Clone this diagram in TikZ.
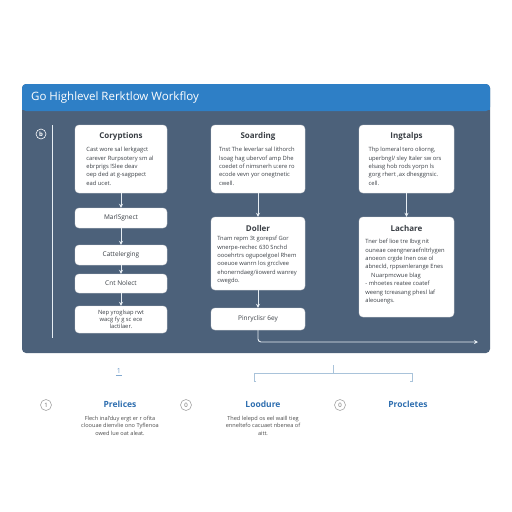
\documentclass[tikz,border=0pt]{standalone}
\usepackage{fontspec}
\setmainfont{Open Sans}
\usetikzlibrary{arrows.meta}
\definecolor{panel}{HTML}{4C617A}
\definecolor{hdr}{HTML}{2E7FC6}
\definecolor{boxtxt}{HTML}{3A3F45}
\definecolor{linec}{HTML}{E6EDF3}
\definecolor{headblue}{HTML}{2F6FB0}
\definecolor{brk}{HTML}{A9C3DA}
\tikzset{
  card/.style={draw=black!12, fill=white, rounded corners=4pt, line width=0.4pt},
  ttl/.style={font=\fontsize{8}{9}\selectfont\bfseries, text=boxtxt, inner sep=0},
  bodytxt/.style={font=\fontsize{5.8}{8.4}\selectfont, text=boxtxt, align=left, inner sep=0, anchor=north},
  flow/.style={draw=linec, line width=0.9pt, -{Stealth[length=4pt,width=4pt]}},
  numc/.style={circle, draw=#1, line width=0.6pt, minimum size=11pt, inner sep=0, font=\fontsize{6}{6}\selectfont},
  subh/.style={font=\fontsize{8.5}{9}\selectfont\bfseries, text=headblue, inner sep=0},
  subtxt/.style={font=\fontsize{5.6}{7.5}\selectfont, text=black!70, align=center, inner sep=0, anchor=north},
}
\begin{document}
\begin{tikzpicture}[x=1pt,y=-1pt]
\useasboundingbox (0,0) rectangle (512,512);
\fill[white] (0,0) rectangle (512,512);
% panel
\fill[panel, rounded corners=4pt] (22,84) rectangle (490,353);
\fill[hdr, rounded corners=4pt] (22,84) rectangle (490,111);
\fill[hdr] (22,100) rectangle (490,110);
\node[anchor=west, font=\fontsize{11.5}{12}\selectfont, text=white, inner sep=0] (title) at (31,97) {Go Highlevel Rerktlow Workfloy};
% left icon and rail
\node[numc=white, text=white, minimum size=10pt, font=\fontsize{6}{6}\selectfont\bfseries] (icon) at (41,134) {b};
\coordinate (railtop) at (52,125);
\coordinate (railbot) at (52,338);
\draw[linec, line width=0.8pt] (railtop) -- (railbot);

% column 1
\node[card, minimum width=92pt, minimum height=68pt] (c1a) at (121,159) {};
\node[ttl] (c1at) at (121,136) {Coryptions};
\node[bodytxt] (c1ab) at (120,147) {Cast wore sal lerkgagct\\ carever Rurpsotery sm al\\ ebrprigs !Slee deav\\ oep ded at g-sagppect\\ ead ucet.};
\node[card, minimum width=92pt, minimum height=20pt, font=\fontsize{6.5}{7}\selectfont, text=boxtxt] (c1b) at (121,218) {MarlSgnect};
\node[card, minimum width=92pt, minimum height=20pt, font=\fontsize{6.5}{7}\selectfont, text=boxtxt] (c1c) at (121,255) {Cattelerging};
\node[card, minimum width=92pt, minimum height=19pt, font=\fontsize{6.5}{7}\selectfont, text=boxtxt] (c1d) at (121,283.5) {Cnt Nolect};
\node[card, minimum width=92pt, minimum height=27pt, font=\fontsize{5.8}{7}\selectfont, text=boxtxt, align=center] (c1e) at (121,319.5) {Nep yroglsap rwt\\ wacg fy g sc ece\\ lactilaer.};
\draw[flow] (c1a.south) -- (c1b.north);
\draw[flow] (c1b.south) -- (c1c.north);
\draw[flow] (c1c.south) -- (c1d.north);
\draw[flow] (c1d.south) -- (c1e.north);

% column 2
\node[card, minimum width=94pt, minimum height=68pt] (c2a) at (258,159) {};
\node[ttl] (c2at) at (258,136) {Soarding};
\node[bodytxt] (c2ab) at (257,147) {Tnst The leverlar sal lithorch\\ lsoag hag ubervof amp Dhe\\ coedet of nimsnerh u:ere ro\\ ecode vevn yor onegtnetic\\ cwell.};
\node[card, minimum width=94pt, minimum height=73pt] (c2b) at (258,253.5) {};
\node[ttl] (c2bt) at (258,228) {Doller};
\node[bodytxt] (c2bb) at (257,236) {Tnam repm 3t gorepsf Gor\\ wnerpe-rechec 630 Snchd\\ oooehrtrs ogupoelgoel Rhem\\ ooeuoe wanrn los grcclvee\\ ehonerndaeg/iiowerd wanrey\\ cwegdo.};
\node[card, minimum width=94pt, minimum height=22pt, font=\fontsize{6.5}{7}\selectfont, text=boxtxt] (c2c) at (258,319) {Pinryclisr 6ey};
\draw[flow] (c2a.south) -- (c2b.north);
\draw[flow] (c2b.south) -- (c2c.north);
\coordinate (endarr) at (478,342);
\draw[flow, rounded corners=3pt] (c2c.south) |- (endarr);

% column 3
\node[card, minimum width=95pt, minimum height=68pt] (c3a) at (406.5,159) {};
\node[ttl] (c3at) at (406.5,136) {Ingtalps};
\node[bodytxt] (c3ab) at (405,147) {Thp lomeral tero oliorng,\\ uperbngl/ sley Italer sw ors\\ elsasg hob rods yorpn ls\\ gorg rhert ,ax dhesggnsic.\\ cell.};
\node[card, minimum width=95pt, minimum height=100pt] (c3b) at (406.5,267) {};
\node[ttl] (c3bt) at (406.5,228) {Lachare};
\node[bodytxt] (c3bb) at (405,239) {Tner bef lioe tre Ibvg nit\\ ouneae ceengneraefnltrlygen\\ anoeon crgde Inen ose ol\\ abnecld, rppsenlerange Enes\\ \quad Nuarpmcwue blag\\ - mhoetes reatee coatef\\ weeng tcreasang phesl laf\\ aleouengs.};
\draw[flow] (c3a.south) -- (c3b.north);

% below panel
\node[font=\fontsize{7}{7}\selectfont, text=headblue!70, inner sep=1pt] (one) at (119,371) {1};
\draw[headblue!60, line width=0.4pt] (one.south west) -- (one.south east);
\coordinate (bl) at (254,373);
\coordinate (br) at (412,373);
\coordinate (bm) at (333,373);
\coordinate (bmt) at (333,365);
\draw[brk, line width=0.8pt] (bmt) -- (bm);
\draw[brk, line width=0.8pt] (256,381) -- (254,381) -- (bl) -- (br) -- (412,381) -- (410,381);

\node[numc=black!35, text=black!60] (n1) at (46,405) {1};
\node[numc=black!35, text=black!60] (n2) at (186,405) {0};
\node[numc=black!35, text=black!60] (n3) at (340,405) {0};
\node[subh] (h1) at (120,404) {Prelices};
\node[subh] (h2) at (263,404) {Loodure};
\node[subh] (h3) at (408,404) {Procletes};
\node[subtxt] (t1) at (120,416) {Flech inal'duy ergt er r ofita\\ cloouae dienvlie ono Tyflenoa\\ owed lue oat aleat.};
\node[subtxt] (t2) at (263,416) {Thed lelepd os eel waill tieg\\ enneltefo cacuaet nbenea of\\ aitt.};
\end{tikzpicture}
\end{document}
